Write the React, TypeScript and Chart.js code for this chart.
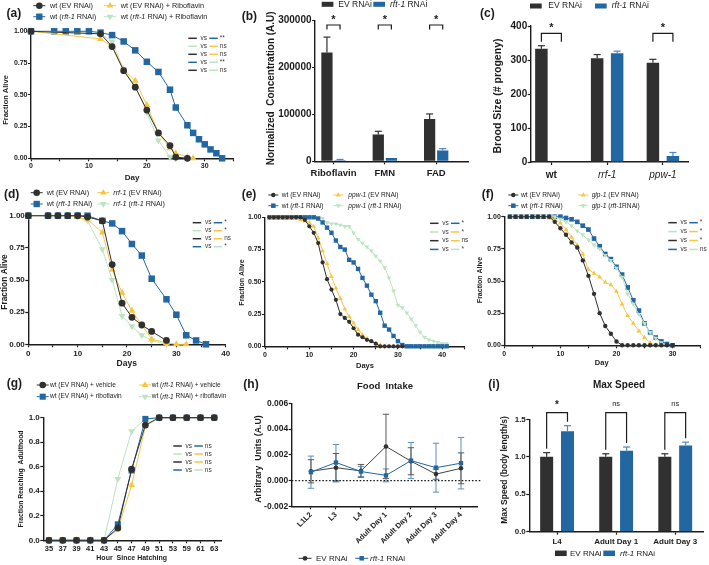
import React, { useEffect, useRef } from 'react';
import { Chart, registerables } from 'chart.js';

Chart.register(...registerables);

const W = 709;
const H = 565;
const FONT = "'Liberation Sans', Arial, Helvetica, sans-serif";
const INK = '#1c1c1c';
const BLACK = '#303030';
const BLUE = '#2367a2';
const BLUE_ERR = '#4f88ba';
const YELLOW = '#f7c744';
const GREEN = '#bde3c2';

// ---------- (a) lifespan + riboflavin ----------
const A_DAYS_EV = [0, 12, 14, 16, 18, 20, 22, 24, 25, 27];
const A_EV = [1, 0.98, 0.88, 0.69, 0.56, 0.38, 0.2, 0.1, 0.01, 0];
const A_DAYS_RFT = [0, 4, 6, 8, 10, 12, 14, 16, 18, 20, 22, 24, 25, 27, 28, 29, 30, 31, 32, 33];
const A_RFT = [1, 1, 1, 1, 1, 0.99, 0.97, 0.92, 0.85, 0.76, 0.68, 0.54, 0.4, 0.26, 0.2, 0.15, 0.11, 0.07, 0.04, 0];
const A_DAYS_EV_RIBO = [0, 12, 14, 16, 18, 20, 22, 24, 25, 27, 28];
const A_EV_RIBO = [1, 0.94, 0.88, 0.7, 0.61, 0.42, 0.2, 0.08, 0.04, 0.01, 0];
const A_DAYS_RFT_RIBO = [0, 12, 14, 16, 18, 20, 22, 24, 25];
const A_RFT_RIBO = [1, 0.98, 0.92, 0.7, 0.57, 0.36, 0.14, 0.01, 0];

// ---------- (b) flavins ----------
const B_CATS = ['Riboflavin', 'FMN', 'FAD'];
const B_EV = [232000, 57000, 90000];
const B_EV_ERR = [33000, 7000, 11000];
const B_RFT = [2500, 7000, 23000];
const B_RFT_ERR = [1500, 0, 4000];

// ---------- (c) brood size ----------
const C_CATS = ['wt', 'rrf-1', 'ppw-1'];
const C_EV = [333, 305, 292];
const C_EV_ERR = [9, 11, 10];
const C_RFT = [0, 320, 18];
const C_RFT_ERR = [0, 6, 10];

// ---------- (d) rrf-1 lifespan ----------
const D_DAYS = [0, 4, 6, 8, 10, 12, 15, 17, 19, 21, 23, 25, 28, 30, 32, 34, 36];
const D_EV = [1, 1, 1, 1, 1, 0.99, 0.96, 0.62, 0.32, 0.21, 0.15, 0.1, 0.03];
const D_RFT = [1, 1, 1, 1, 1, 1, 0.96, 0.94, 0.88, 0.78, 0.69, 0.51, 0.35, 0.23, 0.07, 0.03, 0];
const D_RRF = [1, 1, 1, 1, 0.99, 0.97, 0.87, 0.58, 0.4, 0.26, 0.15, 0.04, 0.01, 0, 0];
const D_RRF_RFT = [1, 1, 1, 1, 0.99, 0.96, 0.74, 0.5, 0.22, 0.14, 0.07, 0.03, 0];

// ---------- (e) ppw-1 lifespan ----------
const E_DAYS = [1, 2, 3, 4, 5, 6, 7, 8, 9, 10, 11, 12, 13, 14, 15, 16, 17, 18, 19, 20, 21, 22, 23, 24, 25, 26, 27, 28, 29, 30, 31, 32, 33, 34, 35, 36, 37, 38, 39, 40, 41];
const E_EV = [1, 1, 1, 1, 1, 1, 1, 1, 0.98, 0.93, 0.88, 0.8, 0.65, 0.52, 0.44, 0.36, 0.25, 0.22, 0.19, 0.14, 0.09, 0.07, 0.05, 0.04, 0.02, 0, 0, 0, 0, 0, 0];
const E_PPW = [1, 1, 1, 1, 1, 1, 0.99, 0.98, 0.97, 0.96, 0.93, 0.84, 0.74, 0.64, 0.54, 0.45, 0.37, 0.29, 0.23, 0.18, 0.13, 0.09, 0.06, 0.04, 0.02, 0.01, 0];
const E_RFT = [1, 1, 1, 1, 1, 1, 1, 1, 1, 1, 1, 0.99, 0.96, 0.92, 0.88, 0.82, 0.77, 0.75, 0.67, 0.65, 0.6, 0.53, 0.47, 0.4, 0.35, 0.26, 0.16, 0.13, 0.08, 0.04, 0.01, 0, 0, 0, 0, 0, 0, 0, 0, 0, 0];
const E_PPW_RFT = [1, 1, 1, 1, 1, 1, 1, 1, 1, 1, 1, 1, 0.99, 0.96, 0.95, 0.95, 0.94, 0.93, 0.93, 0.88, 0.83, 0.8, 0.77, 0.74, 0.7, 0.66, 0.61, 0.53, 0.43, 0.32, 0.3, 0.26, 0.21, 0.16, 0.11, 0.07, 0.05, 0.04, 0.03, 0.02, 0.02];

// ---------- (f) glp-1 lifespan ----------
const F_DAYS = [1, 2, 3, 4, 5, 6, 7, 8, 9, 10, 11, 12, 13, 14, 15, 16, 17, 18, 19, 20, 21, 22, 23, 24, 25, 26, 27, 28, 29, 30];
const F_EV = [1, 1, 1, 1, 1, 1, 1, 1, 0.96, 0.91, 0.86, 0.8, 0.76, 0.66, 0.54, 0.4, 0.25, 0.15, 0.09, 0.03, 0, 0, 0, 0, 0, 0, 0, 0, 0, 0];
const F_GLP = [1, 1, 1, 1, 1, 1, 1, 0.99, 0.98, 0.95, 0.9, 0.84, 0.78, 0.71, 0.59, 0.56, 0.53, 0.49, 0.47, 0.42, 0.32, 0.23, 0.17, 0.11, 0.06, 0.02, 0];
const F_RFT = [1, 1, 1, 1, 1, 1, 1, 1, 1, 1, 0.99, 0.98, 0.96, 0.93, 0.9, 0.83, 0.77, 0.71, 0.67, 0.61, 0.55, 0.45, 0.35, 0.27, 0.17, 0.1, 0.06, 0.03, 0.01, 0];
const F_GLP_RFT = [1, 1, 1, 1, 1, 1, 1, 1, 1, 0.98, 0.96, 0.93, 0.89, 0.86, 0.82, 0.78, 0.75, 0.7, 0.66, 0.6, 0.53, 0.4, 0.32, 0.24, 0.17, 0.1, 0.055, 0.02, 0];

// ---------- (g) development ----------
const G_HOURS = ['35', '37', '39', '41', '43', '45', '47', '49', '51', '53', '59', '61', '63'];
const G_EV_VEH = [0, 0, 0, 0, 0, 0.1, 0.58, 0.94, 1, 1, 1, 1, 1];
const G_EV_RIBO = [0, 0, 0, 0, 0, 0.13, 0.57, 0.99, 1, 1, 1, 1, 1];
const G_RFT_VEH = [0, 0, 0, 0, 0, 0.09, 0.45, 0.93, 1, 1, 1, 1, 1];
const G_RFT_RIBO = [0, 0, 0, 0, 0, 0.5, 0.89, 0.99, 1, 1, 1, 1, 1];

// ---------- (h) food intake ----------
const H_STAGES = ['L1L2', 'L3', 'L4', 'Adult Day 1', 'Adult Day 2', 'Adult Day 3', 'Adult Day 4'];
const H_EV = [0.00072, 0.001, 0.00075, 0.00265, 0.0015, 0.0005, 0.00095];
const H_EV_ERR = [0.0009, 0.0011, 0.0005, 0.0025, 0.00105, 0.0004, 0.0012];
const H_RFT = [0.00065, 0.0014, 0.0007, 0.0004, 0.00155, 0.001, 0.00135];
const H_RFT_ERR = [0.00125, 0.0014, 0.0004, 0.0005, 0.0014, 0.0019, 0.002];

// ---------- (i) max speed ----------
const I_CATS = ['L4', 'Adult Day 1', 'Adult Day 3'];
const I_EV = [1.0, 1.0, 1.0];
const I_EV_ERR = [0.055, 0.04, 0.04];
const I_RFT = [1.34, 1.08, 1.15];
const I_RFT_ERR = [0.075, 0.05, 0.045];

// ---------- drawing helpers ----------
type Ctx = CanvasRenderingContext2D;
type Shape = 'circle' | 'rect' | 'triangle' | 'tri-down';
interface Sty { color: string; shape: Shape }
const S_EV: Sty = { color: BLACK, shape: 'circle' };
const S_RFT: Sty = { color: BLUE, shape: 'rect' };
const S_Y: Sty = { color: YELLOW, shape: 'triangle' };
const S_G: Sty = { color: GREEN, shape: 'tri-down' };

function setFont(ctx: Ctx, size: number, bold = false, italic = false) {
  ctx.font = `${italic ? 'italic ' : ''}${bold ? 'bold ' : ''}${size}px ${FONT}`;
}

interface TOpt { size: number; bold?: boolean; align?: 'left' | 'center' | 'right'; color?: string; rot?: number }

function text(ctx: Ctx, s: string, x: number, y: number, o: TOpt) {
  const segs = s.split('_').map((t, i) => ({ t, it: i % 2 === 1, w: 0 }));
  let total = 0;
  for (const g of segs) {
    setFont(ctx, o.size, o.bold, g.it);
    g.w = ctx.measureText(g.t).width;
    total += g.w;
  }
  ctx.save();
  ctx.translate(x, y);
  if (o.rot) ctx.rotate(o.rot);
  ctx.fillStyle = o.color || INK;
  ctx.textBaseline = 'middle';
  ctx.textAlign = 'left';
  let cx = o.align === 'center' ? -total / 2 : o.align === 'right' ? -total : 0;
  for (const g of segs) {
    setFont(ctx, o.size, o.bold, g.it);
    ctx.fillText(g.t, cx, 0);
    cx += g.w;
  }
  ctx.restore();
}

function marker(ctx: Ctx, shape: Shape, x: number, y: number, r: number, color: string) {
  ctx.save();
  ctx.fillStyle = color;
  ctx.beginPath();
  if (shape === 'circle') ctx.arc(x, y, r, 0, Math.PI * 2);
  else if (shape === 'rect') {
    const s = r * Math.SQRT1_2;
    ctx.rect(x - s, y - s, 2 * s, 2 * s);
  } else {
    let a = shape === 'tri-down' ? Math.PI : 0;
    for (let k = 0; k < 3; k++) {
      const px = x + Math.sin(a) * r;
      const py = y - Math.cos(a) * r;
      if (k === 0) ctx.moveTo(px, py);
      else ctx.lineTo(px, py);
      a += (2 * Math.PI) / 3;
    }
    ctx.closePath();
  }
  ctx.fill();
  ctx.restore();
}

function seg(ctx: Ctx, x1: number, y1: number, x2: number, y2: number, color: string, w = 1) {
  ctx.save();
  ctx.strokeStyle = color;
  ctx.lineWidth = w;
  ctx.beginPath();
  ctx.moveTo(x1, y1);
  ctx.lineTo(x2, y2);
  ctx.stroke();
  ctx.restore();
}

function legendItem(ctx: Ctx, mx: number, y: number, s: Sty, r: number, label: string, tx: number, size: number, half = 6) {
  seg(ctx, mx - half, y, mx + half, y, s.color, 1);
  marker(ctx, s.shape, mx, y, r, s.color);
  text(ctx, label, tx, y, { size });
}

function legendBox(ctx: Ctx, x: number, y: number, w: number, h: number, color: string, label: string, tx: number, size: number) {
  ctx.save();
  ctx.fillStyle = color;
  ctx.fillRect(x, y - h / 2, w, h);
  ctx.restore();
  text(ctx, label, tx, y, { size });
}

type Row = [string, string, string];
function vsTable(ctx: Ctx, x0: number, y0: number, dy: number, rows: Row[], size: number) {
  rows.forEach((r, i) => {
    const y = y0 + i * dy;
    seg(ctx, x0, y, x0 + 8.5, y, r[0], 1.5);
    text(ctx, 'vs', x0 + 12.3, y, { size, color: '#3a3a3a' });
    seg(ctx, x0 + 21, y, x0 + 29.5, y, r[1], 1.5);
    text(ctx, r[2], x0 + 31.5, y, { size, color: '#3a3a3a' });
  });
}

function bracket(ctx: Ctx, x1: number, x2: number, top: number, yl: number, yr: number, label: string, size: number, labelY: number, bold = true) {
  ctx.save();
  ctx.strokeStyle = INK;
  ctx.lineWidth = 1.2;
  ctx.beginPath();
  ctx.moveTo(x1, yl);
  ctx.lineTo(x1, top);
  ctx.lineTo(x2, top);
  ctx.lineTo(x2, yr);
  ctx.stroke();
  ctx.restore();
  text(ctx, label, (x1 + x2) / 2, labelY, { size, bold, align: 'center' });
}

// ---------- chart config helpers ----------
function frame(l: number, t: number, r: number, b: number) {
  const z = (s: any) => {
    s.paddingLeft = 0;
    s.paddingRight = 0;
    s.paddingTop = 0;
    s.paddingBottom = 0;
  };
  return {
    padding: { left: 0, top: t, right: W - r, bottom: 0 },
    xFit: (s: any) => { s.height = H - b; z(s); },
    yFit: (s: any) => { s.width = l; z(s); },
  };
}

function axis(fit: any, tickFont: any, pad: number, extra: any = {}) {
  const { ticks: extraTicks, ...rest } = extra;
  return {
    offset: false,
    grid: { display: true, drawOnChartArea: false, drawTicks: true, tickLength: 3, tickWidth: 1.2, tickColor: INK, color: INK, offset: false },
    border: { display: true, color: INK, width: 1.4 },
    afterFit: fit,
    ...rest,
    ticks: { color: INK, padding: pad, autoSkip: false, maxRotation: 0, minRotation: 0, font: tickFont, ...(extraTicks || {}) },
  };
}

function baseOptions(f: any, scales: any) {
  return {
    responsive: false,
    animation: false,
    devicePixelRatio: 1,
    events: [],
    layout: { padding: f.padding },
    plugins: { legend: { display: false }, tooltip: { enabled: false }, title: { display: false } },
    scales,
  };
}

const bold = (size: number) => ({ family: FONT, size, weight: 'bold' });

interface Series { days: number[]; vals: number[]; sty: Sty; r: number }

function lineDataset(s: Series) {
  return {
    data: s.vals.map((v, i) => ({ x: s.days[i], y: v })),
    borderColor: s.sty.color,
    backgroundColor: s.sty.color,
    pointBackgroundColor: s.sty.color,
    pointBorderColor: s.sty.color,
    pointBorderWidth: 0,
    pointStyle: s.sty.shape === 'tri-down' ? 'triangle' : s.sty.shape,
    pointRotation: s.sty.shape === 'tri-down' ? 180 : 0,
    pointRadius: s.r,
    borderWidth: 1,
    tension: 0,
    fill: false,
    clip: false,
  };
}

function decoPlugin(fn: (ctx: Ctx, chart: any) => void) {
  return { id: 'deco', afterDraw(chart: any) { fn(chart.ctx, chart); } };
}

function survival(box: number[], xMax: number, series: Series[], tickSize: number, xPad: number, deco: (ctx: Ctx, chart: any) => void) {
  const f = frame(box[0], box[1], box[2], box[3]);
  return {
    type: 'line',
    data: { datasets: series.map(lineDataset) },
    options: baseOptions(f, {
      x: axis(f.xFit, bold(tickSize), xPad, {
        type: 'linear', min: 0, max: xMax,
        ticks: { stepSize: 5, callback: (v: number) => (v % 10 === 0 ? String(v) : '') },
      }),
      y: axis(f.yFit, bold(tickSize), 0.5, {
        type: 'linear', min: 0, max: 1,
        ticks: { stepSize: 0.25, callback: (v: number) => v.toFixed(2) },
      }),
    }),
    plugins: [decoPlugin(deco)],
  };
}

interface BarSet { vals: number[]; errs: number[]; color: string; errColor: string }

function barChart(
  box: number[], cats: string[], xMin: number, xMax: number, yMax: number, yStep: number, yFmt: (v: number) => string,
  sets: BarSet[], cp: number, bp: number, yTick: number, xFont: any, xPad: number, deco: (ctx: Ctx, chart: any) => void,
) {
  const f = frame(box[0], box[1], box[2], box[3]);
  const errPlugin = {
    id: 'errbars',
    afterDatasetsDraw(chart: any) {
      const ctx = chart.ctx;
      const ys = chart.scales.y;
      sets.forEach((s, di) => {
        const meta = chart.getDatasetMeta(di);
        s.vals.forEach((v, i) => {
          const e = s.errs[i];
          if (!e) return;
          const el = meta.data[i];
          const y0 = ys.getPixelForValue(v);
          const y1 = ys.getPixelForValue(v + e);
          seg(ctx, el.x, y0, el.x, y1, s.errColor, 1.2);
          seg(ctx, el.x - 3.5, y1, el.x + 3.5, y1, s.errColor, 1.2);
        });
      });
    },
  };
  return {
    type: 'bar',
    data: {
      datasets: sets.map((s) => ({
        data: s.vals.map((v, i) => ({ x: i, y: v })),
        backgroundColor: s.color,
        borderWidth: 0,
        categoryPercentage: cp,
        barPercentage: bp,
      })),
    },
    options: baseOptions(f, {
      x: axis(f.xFit, xFont, xPad, {
        type: 'linear', min: xMin, max: xMax,
        afterBuildTicks: (s: any) => { s.ticks = cats.map((_, i) => ({ value: i })); },
        ticks: { callback: (v: number) => cats[v] ?? '' },
      }),
      y: axis(f.yFit, bold(yTick), 0.5, {
        type: 'linear', min: 0, max: yMax, beginAtZero: true,
        ticks: { stepSize: yStep, callback: yFmt },
      }),
    }),
    plugins: [errPlugin, decoPlugin(deco)],
  };
}

const ROT = -Math.PI / 2;

function buildConfigs(): any[] {
  // (a)
  const cfgA = survival(
    [31, 31.3, 233.7, 158.3], 35,
    [
      { days: A_DAYS_EV, vals: A_EV, sty: S_EV, r: 3.4 },
      { days: A_DAYS_EV_RIBO, vals: A_EV_RIBO, sty: S_Y, r: 4 },
      { days: A_DAYS_RFT_RIBO, vals: A_RFT_RIBO, sty: S_G, r: 4 },
      { days: A_DAYS_RFT, vals: A_RFT, sty: S_RFT, r: 4.6 },
    ],
    7, 1,
    (ctx) => {
      text(ctx, '(a)', 6.5, 13.3, { size: 12, bold: true });
      legendItem(ctx, 39.3, 5.7, S_EV, 3.3, 'wt (EV RNAi)', 50, 7.3);
      legendItem(ctx, 110, 5.7, S_Y, 3.8, 'wt (EV RNAi) + Riboflavin', 120.7, 7.3);
      legendItem(ctx, 39.3, 16.7, S_RFT, 4.5, 'wt (_rft-1_ RNAi)', 50, 7.3);
      legendItem(ctx, 110, 16.7, S_G, 3.8, 'wt (_rft-1_ RNAi) + Riboflavin', 120.7, 7.3);
      text(ctx, 'Day', 132, 178, { size: 8, bold: true, align: 'center' });
      text(ctx, 'Fraction Alive', 5.5, 100, { size: 7.5, bold: true, align: 'center', rot: ROT });
      vsTable(ctx, 188.3, 38.3, 8, [
        [BLACK, BLUE, '**'], [GREEN, YELLOW, 'ns'], [BLACK, YELLOW, 'ns'], [BLUE, GREEN, '**'], [BLACK, GREEN, 'ns'],
      ], 6.5);
    },
  );

  // (b)
  const cfgB = barChart(
    [315, 20.7, 468, 161.3], B_CATS, -0.36, 2.62, 300000, 100000, (v) => String(v),
    [
      { vals: B_EV, errs: B_EV_ERR, color: BLACK, errColor: BLACK },
      { vals: B_RFT, errs: B_RFT_ERR, color: BLUE, errColor: BLUE_ERR },
    ],
    0.51, 0.86, 10, bold(9.5), 3.8,
    (ctx, ch) => {
      text(ctx, '(b)', 241.7, 16.7, { size: 12, bold: true });
      legendBox(ctx, 321.7, 4.3, 11.7, 5, BLACK, 'EV RNAi', 338.3, 8.5);
      legendBox(ctx, 373.3, 4.3, 11.7, 5, BLUE, '_rft-1_ RNAi', 390, 8.5);
      text(ctx, 'Normalized  Concentration (A.U)', 271.7, 88.3, { size: 10, bold: true, align: 'center', rot: ROT });
      const m0 = ch.getDatasetMeta(0);
      const m1 = ch.getDatasetMeta(1);
      const top = ch.chartArea.top + 4.3;
      B_CATS.forEach((_, i) => {
        bracket(ctx, m0.data[i].x, m1.data[i].x, top, top + 4.5, top + 4.5, '*', 11, top - 5);
      });
    },
  );

  // (c)
  const cfgC = barChart(
    [530.7, 26, 688, 162], C_CATS, -0.371, 2.45, 400, 100, (v) => String(v),
    [
      { vals: C_EV, errs: C_EV_ERR, color: BLACK, errColor: BLACK },
      { vals: C_RFT, errs: C_RFT_ERR, color: BLUE, errColor: BLUE_ERR },
    ],
    0.717, 0.625, 10,
    (c: any) => ({ family: FONT, size: 10, weight: c.index === 0 ? 'bold' : 'normal', style: c.index === 0 ? 'normal' : 'italic' }),
    4.5,
    (ctx, ch) => {
      text(ctx, '(c)', 480, 14, { size: 12, bold: true });
      legendBox(ctx, 530, 6, 11.7, 5, BLACK, 'EV RNAi', 548.3, 8.5);
      legendBox(ctx, 595, 6, 11.7, 5, BLUE, '_rft-1_ RNAi', 611.7, 8.5);
      text(ctx, 'Brood Size (# progeny)', 498.3, 96, { size: 10.5, bold: true, align: 'center', rot: ROT });
      const m0 = ch.getDatasetMeta(0);
      const m1 = ch.getDatasetMeta(1);
      const top = ch.chartArea.top + 7.3;
      [0, 2].forEach((i) => {
        bracket(ctx, m0.data[i].x, m1.data[i].x, top, top + 8.4, top + 8.4, '*', 11, top - 5.5);
      });
    },
  );

  // (d)
  const cfgD = survival(
    [28.3, 215.7, 225.7, 344.3], 40,
    [
      { days: D_DAYS, vals: D_EV, sty: S_EV, r: 3.4 },
      { days: D_DAYS, vals: D_RRF, sty: S_Y, r: 4 },
      { days: D_DAYS, vals: D_RRF_RFT, sty: S_G, r: 4 },
      { days: D_DAYS, vals: D_RFT, sty: S_RFT, r: 4.6 },
    ],
    8, 1.6,
    (ctx) => {
      text(ctx, '(d)', 4, 195, { size: 12, bold: true });
      legendItem(ctx, 36.7, 192.7, S_EV, 3.3, 'wt (EV RNAi)', 46.7, 7.2);
      legendItem(ctx, 103.3, 192.7, S_Y, 3.8, '_rrf-1_ (EV RNAi)', 113.3, 7.2);
      legendItem(ctx, 36.7, 204, S_RFT, 4.5, 'wt (_rft-1_ RNAi)', 46.7, 7.2);
      legendItem(ctx, 103.3, 204, S_G, 3.8, '_rrf-1_ (_rft-1_ RNAi)', 113.3, 7.2);
      text(ctx, 'Days', 126.7, 363.3, { size: 8.5, bold: true, align: 'center' });
      text(ctx, 'Fraction Alive', 5, 282, { size: 8.4, bold: true, align: 'center', rot: ROT });
      vsTable(ctx, 192.7, 222.7, 8, [
        [BLACK, BLUE, '*'], [GREEN, YELLOW, '*'], [BLACK, YELLOW, 'ns'], [BLUE, GREEN, '*'],
      ], 6.5);
    },
  );

  // (e)
  const cfgE = survival(
    [265, 217.3, 464.4, 346.3], 45,
    [
      { days: E_DAYS, vals: E_EV, sty: S_EV, r: 2.1 },
      { days: E_DAYS, vals: E_PPW, sty: S_Y, r: 2.7 },
      { days: E_DAYS, vals: E_RFT, sty: S_RFT, r: 3.1 },
      { days: E_DAYS, vals: E_PPW_RFT, sty: S_G, r: 2.7 },
    ],
    7, 2,
    (ctx) => {
      text(ctx, '(e)', 241.7, 195, { size: 12, bold: true });
      legendItem(ctx, 273.3, 195, S_EV, 2.2, 'wt (EV RNAi)', 281.7, 6.6, 5);
      legendItem(ctx, 338.3, 195, S_Y, 2.8, '_ppw-1_ (EV RNAi)', 348.3, 6.6, 5);
      legendItem(ctx, 273.3, 205.7, S_RFT, 3.2, 'wt (_rft-1_ RNAi)', 281.7, 6.6, 5);
      legendItem(ctx, 338.3, 205.7, S_G, 2.8, '_ppw-1_ (_rft-1_ RNAi)', 348.3, 6.6, 5);
      text(ctx, 'Days', 365, 365.7, { size: 7.5, bold: true, align: 'center' });
      text(ctx, 'Fraction Alive', 241.7, 282.5, { size: 7, bold: true, align: 'center', rot: ROT });
      vsTable(ctx, 430, 223.3, 8.7, [
        [BLACK, BLUE, '*'], [GREEN, YELLOW, '*'], [BLACK, YELLOW, 'ns'], [BLUE, GREEN, '*'],
      ], 6.5);
    },
  );

  // (f)
  const cfgF = survival(
    [504.3, 216.7, 700.6, 345.3], 35,
    [
      { days: F_DAYS, vals: F_EV, sty: S_EV, r: 2.2 },
      { days: F_DAYS, vals: F_GLP, sty: S_Y, r: 2.8 },
      { days: F_DAYS, vals: F_GLP_RFT, sty: S_G, r: 2.8 },
      { days: F_DAYS, vals: F_RFT, sty: S_RFT, r: 3.3 },
    ],
    7, 1.2,
    (ctx) => {
      text(ctx, '(f)', 481.7, 195, { size: 12, bold: true });
      legendItem(ctx, 513.3, 195, S_EV, 2.2, 'wt (EV RNAi)', 521, 6.6, 5);
      legendItem(ctx, 583.3, 195, S_Y, 2.8, '_glp-1_ (EV RNAi)', 591.7, 6.6, 5);
      legendItem(ctx, 513.3, 205.7, S_RFT, 3.2, 'wt (_rft-1_ RNAi)', 521, 6.6, 5);
      legendItem(ctx, 583.3, 205.7, S_G, 2.8, '_glp-1_ (_rft-1_RNAi)', 591.7, 6.6, 5);
      text(ctx, 'Day', 601.7, 363.3, { size: 7.5, bold: true, align: 'center' });
      text(ctx, 'Fraction Alive', 480, 280, { size: 7, bold: true, align: 'center', rot: ROT });
      vsTable(ctx, 668.3, 222.7, 8.9, [
        [BLACK, BLUE, '*'], [GREEN, YELLOW, '*'], [BLACK, YELLOW, '*'], [BLUE, GREEN, 'ns'],
      ], 6.5);
    },
  );

  // (g)
  const fg = frame(43.3, 417.7, 221.7, 540.3);
  const gIdx = G_HOURS.map((_, i) => i);
  const cfgG = {
    type: 'line',
    data: {
      datasets: [
        lineDataset({ days: gIdx, vals: G_EV_VEH, sty: S_EV, r: 3.4 }),
        lineDataset({ days: gIdx, vals: G_EV_RIBO, sty: S_RFT, r: 4.3 }),
        lineDataset({ days: gIdx, vals: G_RFT_VEH, sty: S_Y, r: 4 }),
        lineDataset({ days: gIdx, vals: G_RFT_RIBO, sty: S_G, r: 4 }),
      ],
    },
    options: baseOptions(fg, {
      x: axis(fg.xFit, bold(7.5), 1, {
        type: 'linear', min: -0.41, max: 12.54,
        afterBuildTicks: (s: any) => { s.ticks = G_HOURS.map((_, i) => ({ value: i })); },
        ticks: { callback: (v: number) => G_HOURS[v] ?? '' },
      }),
      y: axis(fg.yFit, bold(8), 0.5, {
        type: 'linear', min: 0, max: 1,
        ticks: { stepSize: 0.2, callback: (v: number) => v.toFixed(1) },
      }),
    }),
    plugins: [decoPlugin((ctx) => {
      text(ctx, '(g)', 6.7, 383.3, { size: 12, bold: true });
      legendItem(ctx, 42.7, 385, S_EV, 3.3, 'wt (EV RNAi) + vehicle', 50, 6.5);
      legendItem(ctx, 145, 385, S_Y, 3.8, 'wt (_rft-1_ RNAi) + vehicle', 151.7, 6.5);
      legendItem(ctx, 42.7, 396.7, S_RFT, 4.3, 'wt (EV RNAi) + riboflavin', 50, 6.5);
      legendItem(ctx, 145, 396.7, S_G, 3.8, 'wt (_rft-1_ RNAi) + riboflavin', 151.7, 6.5);
      text(ctx, 'Hour  Since Hatching', 131.7, 558.3, { size: 7, bold: true, align: 'center' });
      text(ctx, 'Fraction Reaching  Adulthood', 21, 479, { size: 6.8, bold: true, align: 'center', rot: ROT });
      vsTable(ctx, 173.3, 446, 8, [
        [BLACK, BLUE, 'ns'], [GREEN, YELLOW, 'ns'], [BLACK, YELLOW, 'ns'], [BLUE, GREEN, 'ns'],
      ], 6.5);
    })],
  };

  // (h)
  const fh = frame(291.7, 403.3, 478, 506.3);
  const hIdx = H_STAGES.map((_, i) => i);
  const hErr = {
    id: 'herr',
    beforeDatasetsDraw(chart: any) {
      const ctx = chart.ctx;
      const ys = chart.scales.y;
      const xs = chart.scales.x;
      const sets: [number[], number[], string][] = [[H_RFT, H_RFT_ERR, '#5d8fbd'], [H_EV, H_EV_ERR, '#5a5a5a']];
      sets.forEach(([vals, errs, col]) => {
        vals.forEach((v, i) => {
          const x = xs.getPixelForValue(i);
          const yTop = ys.getPixelForValue(v + errs[i]);
          const yBot = ys.getPixelForValue(v - errs[i]);
          seg(ctx, x, yTop, x, yBot, col, 1);
          seg(ctx, x - 3.2, yTop, x + 3.2, yTop, col, 1);
          seg(ctx, x - 3.2, yBot, x + 3.2, yBot, col, 1);
        });
      });
      // dotted zero line
      const y0 = ys.getPixelForValue(0);
      ctx.save();
      ctx.strokeStyle = INK;
      ctx.lineWidth = 1.3;
      ctx.setLineDash([1.6, 1.8]);
      ctx.beginPath();
      ctx.moveTo(chart.chartArea.left, y0);
      ctx.lineTo(chart.chartArea.right + 4, y0);
      ctx.stroke();
      ctx.restore();
    },
  };
  const hLine = (vals: number[], sty: Sty, r: number, lineColor: string) => ({
    ...lineDataset({ days: hIdx, vals, sty, r }),
    borderColor: lineColor,
  });
  const cfgH = {
    type: 'line',
    data: {
      datasets: [
        hLine(H_RFT, S_RFT, 3.1, BLUE),
        hLine(H_EV, S_EV, 2.3, '#444444'),
      ],
    },
    options: baseOptions(fh, {
      x: axis(fh.xFit, bold(7.5), 1, {
        type: 'linear', min: -0.77, max: 6.68,
        afterBuildTicks: (s: any) => { s.ticks = H_STAGES.map((_, i) => ({ value: i })); },
        ticks: { callback: (v: number) => H_STAGES[v] ?? '', minRotation: 45, maxRotation: 45 },
      }),
      y: axis(fh.yFit, bold(8.5), 0.5, {
        type: 'linear', min: -0.002, max: 0.006,
        ticks: { stepSize: 0.002, callback: (v: number) => v.toFixed(3) },
      }),
    }),
    plugins: [hErr, decoPlugin((ctx) => {
      text(ctx, '(h)', 243.3, 385, { size: 12, bold: true });
      text(ctx, 'Food  Intake', 385, 386, { size: 9.5, bold: true, align: 'center' });
      text(ctx, 'Arbitrary  Units (A.U)', 258.3, 459, { size: 8.8, bold: true, align: 'center', rot: ROT });
      legendItem(ctx, 305, 558.3, S_EV, 2.4, 'EV RNAi', 316, 8, 6.5);
      legendItem(ctx, 361.7, 558.3, S_RFT, 3.2, '_rft-1_ RNAi', 370, 8, 6.5);
    })],
  };

  // (i)
  const cfgI = barChart(
    [529.3, 419.3, 703, 531.7], I_CATS, -0.47, 2.47, 1.5, 0.5, (v) => v.toFixed(1),
    [
      { vals: I_EV, errs: I_EV_ERR, color: BLACK, errColor: BLACK },
      { vals: I_RFT, errs: I_RFT_ERR, color: BLUE, errColor: BLUE_ERR },
    ],
    0.705, 0.625, 8, bold(8), 2.6,
    (ctx, ch) => {
      text(ctx, '(i)', 488.3, 385, { size: 12, bold: true });
      text(ctx, 'Max Speed', 619, 385, { size: 10, bold: true, align: 'center' });
      text(ctx, 'Max Speed (body length/s)', 505, 470, { size: 8.5, bold: true, align: 'center', rot: ROT });
      legendBox(ctx, 555, 553.3, 11.7, 5.5, BLACK, 'EV RNAi', 570, 8);
      legendBox(ctx, 603.3, 553.3, 11.7, 5.5, BLUE, '_rft-1_ RNAi', 620, 8);
      const m0 = ch.getDatasetMeta(0);
      const m1 = ch.getDatasetMeta(1);
      const ys = ch.scales.y;
      const top = ch.chartArea.top - 6.6;
      const labels = ['*', 'ns', 'ns'];
      I_CATS.forEach((_, i) => {
        const yl = ys.getPixelForValue(I_EV[i] + I_EV_ERR[i]) - 4;
        const yr = ys.getPixelForValue(I_RFT[i] + I_RFT_ERR[i]) - 4;
        const star = labels[i] === '*';
        bracket(ctx, m0.data[i].x, m1.data[i].x, top, yl, yr, labels[i], star ? 10 : 7.5, star ? top - 7 : top - 9, star);
      });
    },
  );

  return [cfgA, cfgB, cfgC, cfgD, cfgE, cfgF, cfgG, cfgH, cfgI];
}

export default function App() {
  const refs = useRef<(HTMLCanvasElement | null)[]>([]);
  useEffect(() => {
    const configs = buildConfigs();
    const charts = configs.map((cfg, i) => new Chart(refs.current[i] as HTMLCanvasElement, cfg));
    return () => {
      charts.forEach((c) => c.destroy());
    };
  }, []);
  return (
    <div style={{ position: 'absolute', left: 0, top: 0, width: W, height: H, background: '#ffffff', overflow: 'hidden' }}>
      {Array.from({ length: 9 }).map((_, i) => (
        <canvas
          key={i}
          ref={(el) => { refs.current[i] = el; }}
          width={W}
          height={H}
          style={{ position: 'absolute', left: 0, top: 0, width: W, height: H }}
        />
      ))}
    </div>
  );
}
